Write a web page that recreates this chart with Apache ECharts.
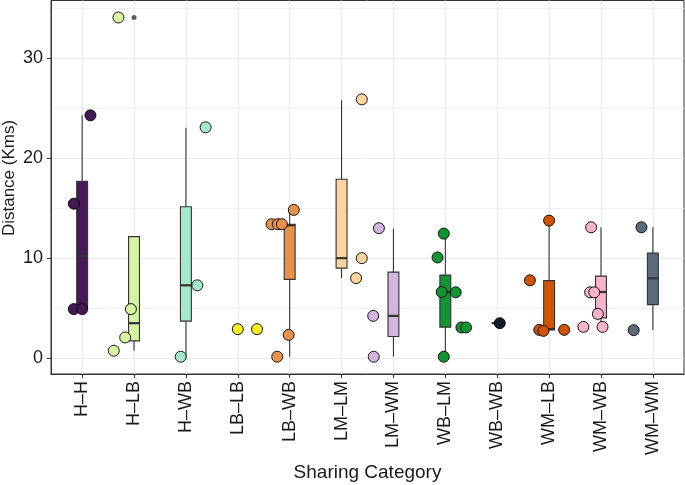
<!DOCTYPE html>
<html><head><meta charset="utf-8">
<script src="https://cdn.jsdelivr.net/npm/echarts@6/dist/echarts.min.js"></script>
<style>html,body{margin:0;padding:0;background:#fff}#c{width:685px;height:485px}</style>
</head><body><div id="c"></div>
<script>
const categories = ['H–H','H–LB','H–WB','LB–LB','LB–WB','LM–LM','LM–WM','WB–LM','WB–WB','WM–LB','WM–WB','WM–WM'];
const colors = ['#441A55','#D4F4A2','#A4E9C8','#FBEF24','#E8914B','#FDD49E','#D2B4DE','#119433','#141C2B','#D35400','#F6B3CB','#5B6B7D'];
// [min, Q1, median, Q3, max]
const boxStats = [
  [4.9, 4.9, 10.2, 17.7, 24.3],
  [0.73, 1.72, 3.49, 12.16, 12.16],
  [0.13, 3.69, 7.28, 15.15, 23.06],
  [2.89, 2.89, 2.89, 2.89, 2.89],
  [0.13, 7.88, 13.3, 13.4, 14.83],
  [8.0, 9.0, 10.0, 17.9, 25.8],
  [0.13, 2.16, 4.22, 8.6, 12.96],
  [0.13, 3.09, 6.6, 8.3, 12.46],
  [3.49, 3.49, 3.49, 3.49, 3.49],
  [2.72, 2.82, 2.9, 7.75, 13.76],
  [3.12, 4.02, 6.61, 8.2, 13.09],
  [2.79, 5.35, 7.98, 10.5, 13.09]
];
const pointValues = [
  [24.3, 15.45, 4.9, 4.9],
  [34.1, 4.9, 2.06, 0.73],
  [23.1, 7.28, 0.13],
  [2.89, 2.89],
  [14.83, 13.4, 13.4, 13.4, 2.32, 0.13],
  [25.9, 10.0, 8.0],
  [13.0, 4.22, 0.13],
  [12.46, 10.07, 6.61, 6.58, 3.06, 3.06, 0.13],
  [3.49],
  [13.76, 7.78, 2.82, 2.72, 2.82],
  [13.09, 6.58, 6.58, 4.42, 3.12, 3.12],
  [13.09, 2.79]
];
const pointJitter = [
  [0.16, -0.16, -0.16, 0.0],
  [-0.30, -0.06, -0.17, -0.39],
  [0.38, 0.22, -0.10],
  [0.0, 0.37],
  [0.08, -0.35, -0.23, -0.15, -0.02, -0.24],
  [0.39, 0.39, 0.28],
  [-0.28, -0.39, -0.38],
  [-0.03, -0.15, -0.07, 0.20, 0.31, 0.40, -0.03],
  [0.05],
  [0.0, -0.37, -0.19, -0.11, 0.29],
  [-0.19, -0.21, -0.13, -0.06, -0.34, 0.03],
  [-0.22, -0.37]
];
const outliers = [[1, 34.1]];
const xTicks = categories.map((c, i) => i);
const yMajorTicks = [0, 10, 20, 30];
const yMinorTicks = [5, 15, 25, 35];
const boxWidth = 0.21;

const FONT = 'Liberation Sans';
const chart = echarts.init(document.getElementById('c'), null, {renderer: 'canvas'});

const series = [{
  type: 'custom',
  data: boxStats.map((s, i) => [i].concat(s)),
  encode: {x: 0, y: [1, 2, 3, 4, 5]},
  z: 2,
  renderItem: function (params, api) {
    const i = api.value(0);
    const half = api.size([boxWidth, 0])[0] / 2;
    const p = (k) => api.coord([i, api.value(k)]);
    const x = p(1)[0];
    const yMin = p(1)[1], yQ1 = p(2)[1], yMed = p(3)[1], yQ3 = p(4)[1], yMax = p(5)[1];
    const ls = {stroke: '#333333', lineWidth: 1.1};
    return {type: 'group', children: [
      {type: 'line', shape: {x1: x, y1: yMax, x2: x, y2: yQ3}, style: ls},
      {type: 'line', shape: {x1: x, y1: yQ1, x2: x, y2: yMin}, style: ls},
      {type: 'rect', shape: {x: x - half, y: yQ3, width: 2 * half, height: Math.max(yQ1 - yQ3, 0)},
        style: {fill: colors[i], stroke: '#333333', lineWidth: 1.1}},
      {type: 'line', shape: {x1: x - half, y1: yMed, x2: x + half, y2: yMed}, style: {stroke: '#333333', lineWidth: 2.2}}
    ]};
  }
}, {
  type: 'scatter',
  data: outliers,
  symbolSize: 5,
  itemStyle: {color: '#333333'},
  z: 3
}];
categories.forEach((c, i) => {
  series.push({
    type: 'scatter',
    name: c,
    data: pointValues[i].map((v, j) => [i + pointJitter[i][j], v]),
    symbolSize: 11,
    itemStyle: {color: colors[i], borderColor: '#000', borderWidth: 0.9, opacity: 1},
    z: 4
  });
});

chart.setOption({
  animation: false,
  backgroundColor: '#fff',
  textStyle: {fontFamily: FONT},
  grid: {left: 51, right: 1, top: 0.5, bottom: 111, show: true, borderColor: '#333', borderWidth: 1,
    backgroundColor: 'transparent', containLabel: false, outerBoundsMode: 'none'},
  graphic: [{
    type: 'text', x: 9, y: 178, rotation: Math.PI / 2,
    style: {text: 'Distance (Kms)', font: '17px "Liberation Sans"', fill: '#1a1a1a', align: 'center', verticalAlign: 'middle'}
  }],
  xAxis: {
    type: 'value', min: -0.6, max: 11.6,
    name: 'Sharing Category', nameLocation: 'middle', nameGap: 88,
    nameTextStyle: {fontSize: 19, color: '#1a1a1a', fontFamily: FONT},
    axisLine: {show: true, onZero: false, lineStyle: {color: '#333', width: 1}},
    axisTick: {show: true, customValues: xTicks, length: 4, lineStyle: {color: '#333'}},
    axisLabel: {customValues: xTicks, formatter: v => categories[Math.round(v)], rotate: 90, fontSize: 18, color: '#1a1a1a', margin: 7, fontFamily: FONT},
    splitLine: {show: true, lineStyle: {color: '#EBEBEB', width: 1}}
  },
  yAxis: [{
    type: 'value', min: -1.6, max: 35.8,
    axisLine: {show: true, onZero: false, lineStyle: {color: '#333', width: 1}},
    axisTick: {show: true, customValues: yMajorTicks, length: 4, lineStyle: {color: '#333'}},
    axisLabel: {customValues: yMajorTicks, fontSize: 18, color: '#1a1a1a', margin: 8, fontFamily: FONT},
    splitLine: {show: true, lineStyle: {color: '#EBEBEB', width: 1}}
  }, {
    type: 'value', min: -1.6, max: 35.8, position: 'left',
    axisLine: {show: false, onZero: false},
    axisTick: {show: false, customValues: yMinorTicks},
    axisLabel: {show: false},
    splitLine: {show: true, lineStyle: {color: '#F0F0F0', width: 1}}
  }],
  series: series
});
</script>
</body></html>
